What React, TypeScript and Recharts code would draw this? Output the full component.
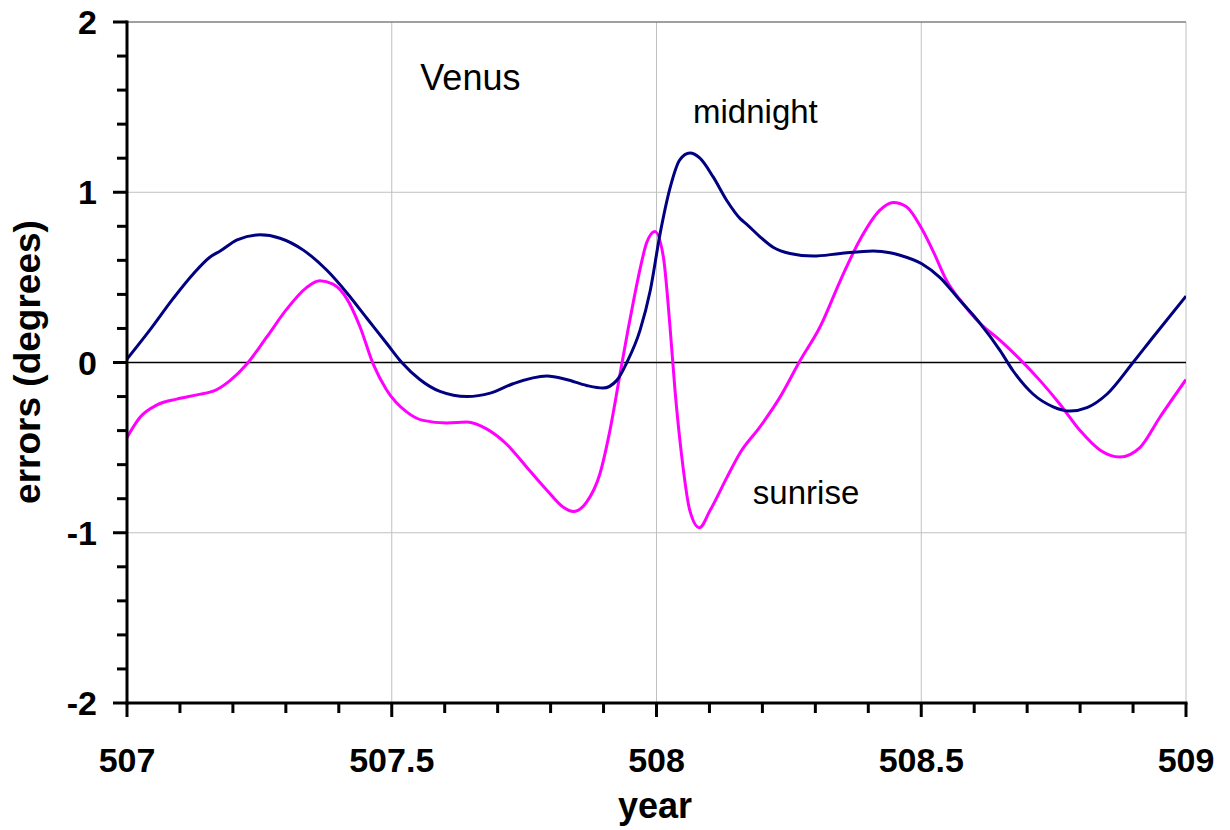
import { LineChart, Line, XAxis, YAxis, ReferenceLine, ReferenceDot, Label } from "recharts"

// values, one array per column
const midnightYears = [
  507.0, 507.043, 507.087, 507.125, 507.157, 507.176, 507.208, 507.251, 507.289, 507.333,
  507.378, 507.415, 507.453, 507.491, 507.519, 507.553, 507.591, 507.642, 507.686, 507.729,
  507.793, 507.83, 507.868, 507.899, 507.925, 507.944, 507.969, 507.988, 508.007, 508.026,
  508.044, 508.063, 508.082, 508.107, 508.133, 508.158, 508.171, 508.195, 508.221, 508.252,
  508.296, 508.347, 508.409, 508.441, 508.46, 508.501, 508.535, 508.573, 508.611, 508.649,
  508.673, 508.711, 508.749, 508.781, 508.813, 508.851, 508.9, 508.938, 509.0,
]
const midnightErrors = [
  0.02, 0.19, 0.375, 0.52, 0.62, 0.655, 0.72, 0.75, 0.73, 0.66,
  0.54, 0.41, 0.26, 0.11, 0.0, -0.1, -0.17, -0.2, -0.18, -0.125,
  -0.08, -0.1, -0.135, -0.15, -0.105, 0.0, 0.19, 0.42, 0.76, 1.03,
  1.19, 1.23, 1.2, 1.09, 0.95, 0.845, 0.81, 0.74, 0.675, 0.64,
  0.625, 0.64, 0.655, 0.645, 0.63, 0.58, 0.5, 0.365, 0.23, 0.07,
  -0.047, -0.185, -0.26, -0.285, -0.265, -0.185, 0.0, 0.15, 0.39,
]

const sunriseYears = [
  507.0, 507.025, 507.056, 507.094, 507.132, 507.169, 507.195, 507.226, 507.264, 507.302,
  507.339, 507.364, 507.389, 507.415, 507.44, 507.465, 507.49, 507.528, 507.559,
  507.604, 507.642, 507.679, 507.717, 507.755, 507.793, 507.824, 507.843, 507.868, 507.893,
  507.912, 507.931, 507.946, 507.959, 507.969, 507.981, 507.997, 508.013, 508.025, 508.035,
  508.048, 508.063, 508.081, 508.101, 508.133, 508.158, 508.195, 508.233, 508.271, 508.309,
  508.347, 508.384, 508.422, 508.447, 508.472, 508.501, 508.523, 508.548, 508.579, 508.611,
  508.649, 508.686, 508.724, 508.762, 508.8, 508.838, 508.875, 508.913, 508.951, 509.0,
]
const sunriseErrors = [
  -0.44, -0.32, -0.25, -0.215, -0.19, -0.16, -0.105, -0.01, 0.15, 0.315,
  0.44, 0.48, 0.46, 0.375, 0.21, -0.01, -0.16, -0.29, -0.34,
  -0.355, -0.35, -0.39, -0.48, -0.615, -0.75, -0.85, -0.875, -0.82, -0.655,
  -0.4, -0.07, 0.19, 0.4, 0.55, 0.7, 0.77, 0.62, 0.23, -0.165,
  -0.56, -0.87, -0.97, -0.87, -0.675, -0.53, -0.38, -0.205, 0.01, 0.21,
  0.48, 0.72, 0.895, 0.94, 0.915, 0.785, 0.65, 0.48, 0.345, 0.23,
  0.13, 0.02, -0.105, -0.245, -0.4, -0.515, -0.555, -0.5, -0.32, -0.1,
]

const xTicks = [
  507, 507.1, 507.2, 507.3, 507.4, 507.5, 507.6, 507.7, 507.8, 507.9, 508,
  508.1, 508.2, 508.3, 508.4, 508.5, 508.6, 508.7, 508.8, 508.9, 509,
]
const xLabels = [507, 507.5, 508, 508.5, 509]
const yTicks = [-2, -1.8, -1.6, -1.4, -1.2, -1, -0.8, -0.6, -0.4, -0.2, 0, 0.2, 0.4, 0.6, 0.8, 1, 1.2, 1.4, 1.6, 1.8, 2]
const yLabels = [-2, -1, 0, 1, 2]
const xGrid = [507.5, 508, 508.5, 509]
const yGrid = [-1, 1]

const midnight = midnightYears.map((year, i) => ({ year, error: midnightErrors[i] }))
const sunrise = sunriseYears.map((year, i) => ({ year, error: sunriseErrors[i] }))

const FONT = "'Liberation Sans', Arial, sans-serif"

function XTick(props: any) {
  const { x, y, payload } = props
  const major = xLabels.includes(payload.value)
  return (
    <g>
      <line x1={x} x2={x} y1={y} y2={y + (major ? 14 : 10)} stroke="#000" strokeWidth={3} />
      {major && (
        <text x={x} y={y + 69} textAnchor="middle" fontSize={34} fontWeight="bold" fontFamily={FONT} fill="#000">
          {payload.value}
        </text>
      )}
    </g>
  )
}

function YTick(props: any) {
  const { x, y, payload } = props
  const major = yLabels.includes(payload.value)
  return (
    <g>
      <line x1={x - (major ? 14 : 10)} x2={x} y1={y} y2={y} stroke="#000" strokeWidth={3} />
      {major && (
        <text x={x - 30} y={y + 12} textAnchor="end" fontSize={34} fontWeight="bold" fontFamily={FONT} fill="#000">
          {payload.value}
        </text>
      )}
    </g>
  )
}

const note = (text: string, size: number) => (p: any) => (
  <text x={p.cx} y={p.cy} fontSize={size} fontFamily={FONT} fill="#000">
    {text}
  </text>
)

export default function App() {
  return (
    <div style={{ position: "absolute", left: 0, top: 0, background: "#fff" }}>
      <LineChart width={1230} height={830} margin={{ top: 22, right: 44, bottom: 0, left: 0 }}>
        <XAxis
          dataKey="year"
          type="number"
          domain={[507, 509]}
          ticks={xTicks}
          interval={0}
          tickSize={0}
          tickMargin={0}
          tickLine={false}
          tick={<XTick />}
          height={127}
          axisLine={{ stroke: "#000", strokeWidth: 3, strokeLinecap: "square" }}
          allowDataOverflow
        >
          <Label
            content={() => (
              <text x={655} y={818} textAnchor="middle" fontSize={36} fontWeight="bold" fontFamily={FONT} fill="#000">
                year
              </text>
            )}
          />
        </XAxis>
        <YAxis
          type="number"
          domain={[-2, 2]}
          ticks={yTicks}
          interval={0}
          tickSize={0}
          tickMargin={0}
          tickLine={false}
          tick={<YTick />}
          width={127}
          axisLine={{ stroke: "#000", strokeWidth: 3, strokeLinecap: "square" }}
          allowDataOverflow
        >
          <Label
            content={() => (
              <text
                x={40}
                y={362}
                transform="rotate(-90, 40, 362)"
                textAnchor="middle"
                fontSize={37}
                fontWeight="bold"
                fontFamily={FONT}
                fill="#000"
              >
                errors (degrees)
              </text>
            )}
          />
        </YAxis>
        {xGrid.map((v) => (
          <ReferenceLine key={"x" + v} x={v} stroke="#c0c0c0" strokeWidth={1} />
        ))}
        {yGrid.map((v) => (
          <ReferenceLine key={"y" + v} y={v} stroke="#c0c0c0" strokeWidth={1} />
        ))}
        <ReferenceLine y={2} stroke="#808080" strokeWidth={1.5} />
        <ReferenceLine y={0} stroke="#000" strokeWidth={1.5} />
        <Line
          data={sunrise}
          dataKey="error"
          type="monotone"
          stroke="#ff00ff"
          strokeWidth={3}
          dot={false}
          isAnimationActive={false}
        />
        <Line
          data={midnight}
          dataKey="error"
          type="monotone"
          stroke="#000080"
          strokeWidth={3}
          dot={false}
          isAnimationActive={false}
        />
        <ReferenceDot x={507.554} y={1.6} r={1} shape={note("Venus", 36)} />
        <ReferenceDot x={508.069} y={1.406} r={1} shape={note("midnight", 33)} />
        <ReferenceDot x={508.182} y={-0.829} r={1} shape={note("sunrise", 33)} />
      </LineChart>
    </div>
  )
}
